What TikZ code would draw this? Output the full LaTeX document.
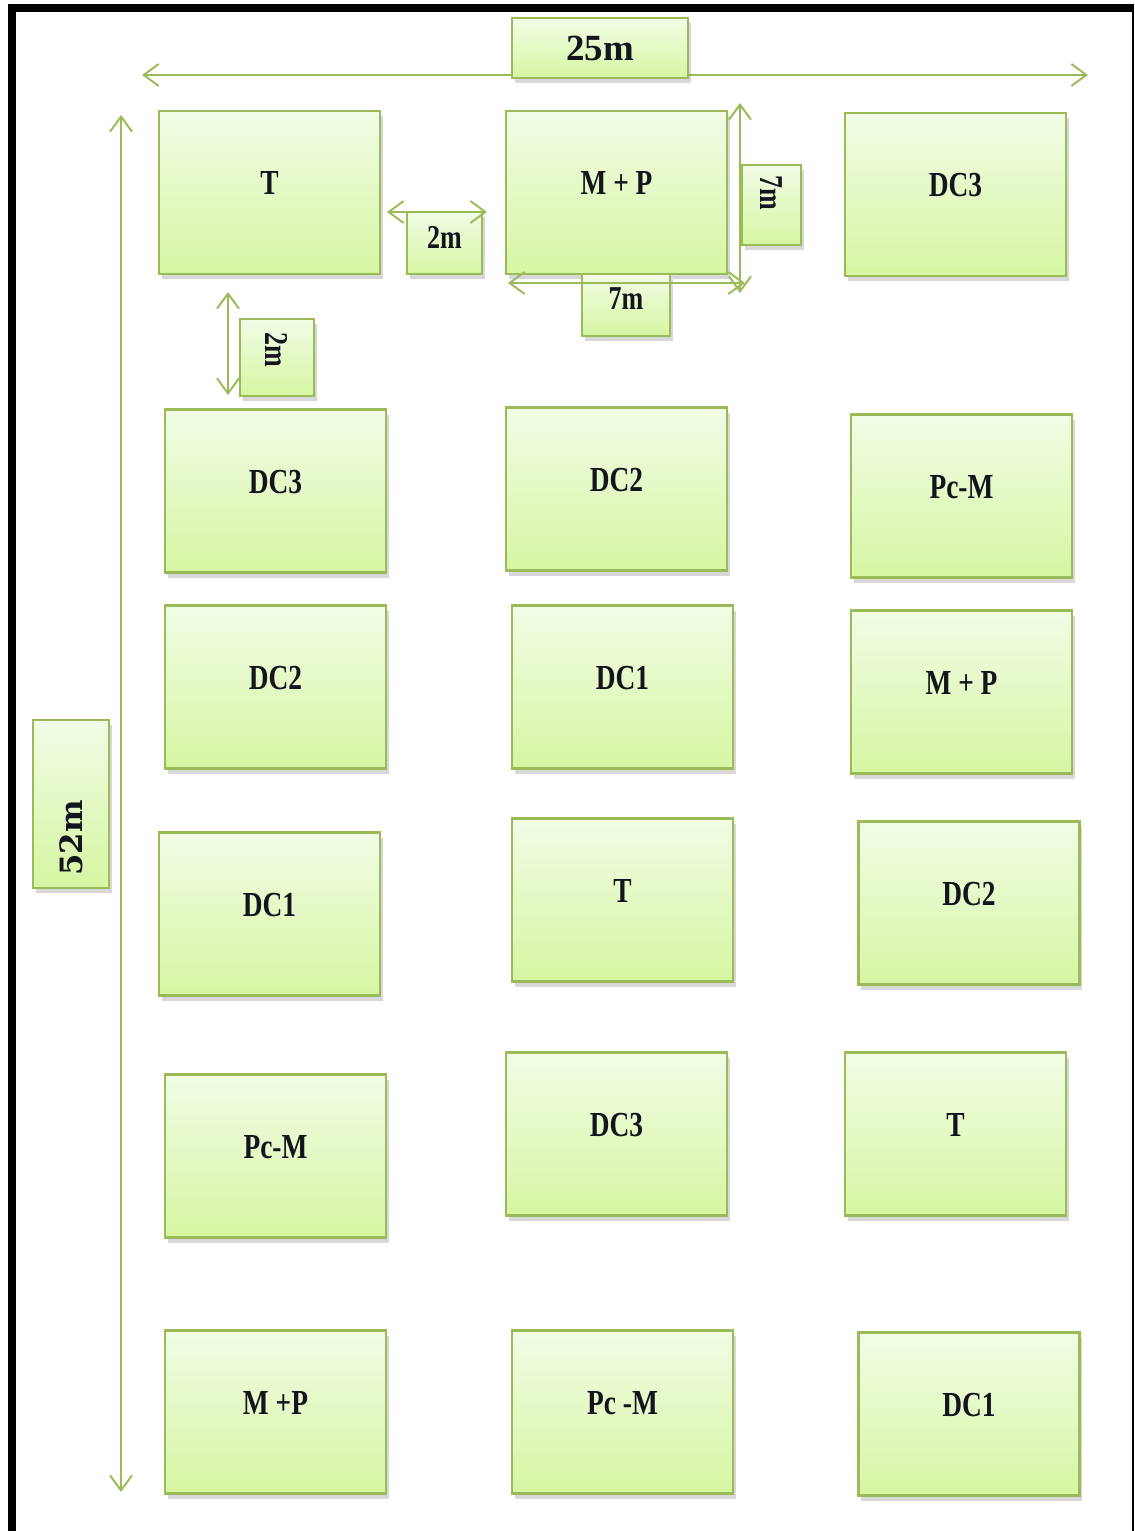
\documentclass[tikz,border=0pt]{standalone}
\usepackage{fontspec}
\setmainfont{Liberation Serif}
\newfontfamily\plotfont[FakeStretch=0.78]{Liberation Serif}
\newfontfamily\sidefont{DejaVu Serif}
\usetikzlibrary{arrows.meta,shadows}
\definecolor{Olive}{HTML}{9BBB59}
\definecolor{LeafTop}{HTML}{F2FCE6}
\definecolor{LeafBottom}{HTML}{D6F6A2}
\definecolor{Ink}{HTML}{14141E}
\definecolor{Frame}{HTML}{000000}

\begin{document}
\begin{tikzpicture}[x=0.02cm,y=-0.02cm,every node/.style={text=Ink},leaf/.style={draw=Olive,line width=1.4pt,top color=LeafTop,bottom color=LeafBottom,drop shadow={shadow xshift=1.5pt,shadow yshift=-3pt,opacity=0.3},inner sep=0pt},plot/.style={leaf,minimum width=4.42cm,minimum height=3.26cm,text height=0.5cm,text depth=0.4cm,font=\plotfont\bfseries\fontsize{20}{24}\selectfont},tag/.style={leaf,font=\plotfont\bfseries\fontsize{19}{23}\selectfont},dimline/.style={draw=Olive,line width=1.1pt,{Straight Barb[length=3mm,width=4.4mm]}-{Straight Barb[length=3mm,width=4.4mm]}}]
\useasboundingbox (0,0) rectangle (1134,1531);
\fill[white] (0,0) rectangle (1134,1531);
\fill[Frame] (8,4) rectangle (16,1531);
\fill[Frame] (8,4) rectangle (1134,12);
\fill[Frame] (1132,4) rectangle (1134,1531);
\coordinate (widthW) at (142,75);
\coordinate (widthE) at (1088,75);
\coordinate (lengthN) at (121,115);
\coordinate (lengthS) at (121,1492);
\coordinate (gapW) at (387,212);
\coordinate (gapE) at (487,212);
\coordinate (sideN) at (740,103);
\coordinate (sideS) at (740,293);
\coordinate (baseW) at (508,283);
\coordinate (baseE) at (745,283);
\coordinate (rowN) at (228,292);
\coordinate (rowS) at (228,395);
\draw[dimline] (widthW) -- (widthE);
\draw[dimline] (lengthN) -- (lengthS);
\node[leaf,minimum width=3.52cm,minimum height=1.2cm,font=\bfseries\fontsize{21}{25}\selectfont] (width) at (600,48) {25m};
\node[leaf,minimum width=1.52cm,minimum height=3.36cm,font=\sidefont\bfseries\fontsize{17.5}{21}\selectfont] (length) at (71,804) {\rotatebox{90}{52m\hspace{1.36cm}}};
\node[plot] (p11) at (269.5,192.5) {T};
\node[plot] (p12) at (616.5,192.5) {M + P};
\node[plot] (p13) at (955.5,194.5) {DC3};
\node[plot] (p21) at (275.5,491) {DC3};
\node[plot] (p22) at (616.5,489) {DC2};
\node[plot] (p23) at (961.5,496) {Pc-M};
\node[plot] (p31) at (275.5,687) {DC2};
\node[plot] (p32) at (622.5,687) {DC1};
\node[plot] (p33) at (961.5,692) {M + P};
\node[plot] (p41) at (269.5,914) {DC1};
\node[plot] (p42) at (622.5,900) {T};
\node[plot] (p43) at (969,903) {DC2};
\node[plot] (p51) at (275.5,1156) {Pc-M};
\node[plot] (p52) at (616.5,1134) {DC3};
\node[plot] (p53) at (955.5,1134) {T};
\node[plot] (p61) at (275.5,1412) {M +P};
\node[plot] (p62) at (622.5,1412) {Pc -M};
\node[plot] (p63) at (969,1414) {DC1};
\node[tag,minimum width=1.5cm,minimum height=1.24cm,text height=0.42cm,text depth=0.2cm] (gap) at (444.5,243) {2m};
\node[tag,minimum width=1.18cm,minimum height=1.6cm] (side) at (771.5,205) {\rotatebox{-90}{7m\hspace{0.5cm}}};
\node[tag,minimum width=1.76cm,minimum height=1.24cm,text height=0.42cm,text depth=0.24cm] (base) at (626,305) {7m};
\node[tag,minimum width=1.48cm,minimum height=1.54cm] (row) at (277,357.5) {\rotatebox{-90}{2m\hspace{0.32cm}}};
\draw[dimline] (gapW) -- (gapE);
\draw[dimline] (sideN) -- (sideS);
\draw[dimline] (baseW) -- (baseE);
\draw[dimline] (rowN) -- (rowS);
\end{tikzpicture}
\end{document}
